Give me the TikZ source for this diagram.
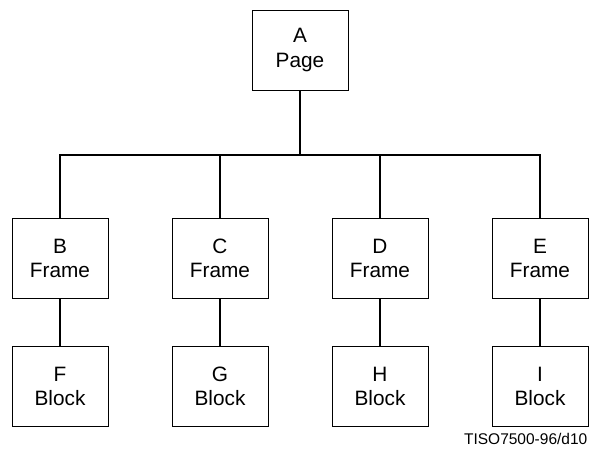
\documentclass[tikz,border=0pt]{standalone}
\usepackage{fontspec}
\setmainfont{Liberation Sans}
\begin{document}
\begin{tikzpicture}[x=1pt,y=1pt,
  box/.style={draw, line width=1pt, minimum width=96pt, minimum height=80pt, inner sep=0pt, align=center, font=\fontsize{20.8}{24.3}\selectfont},
  conn/.style={draw, line width=2pt}]
\useasboundingbox (0,0) rectangle (590,-448);
\node[box] (A) at (300,-50) {A\\Page};
\node[box] (B) at (60,-258.3) {B\\Frame};
\node[box] (C) at (220,-258.3) {C\\Frame};
\node[box] (D) at (380,-258.3) {D\\Frame};
\node[box] (E) at (540,-258.3) {E\\Frame};
\node[box] (F) at (60,-386.3) {F\\Block};
\node[box] (G) at (220,-386.3) {G\\Block};
\node[box] (H) at (380,-386.3) {H\\Block};
\node[box] (I) at (540,-386.3) {I\\Block};
\coordinate (bus) at (300,-154.5);
\foreach \n in {B,C,D,E} {
  \draw[conn] (A.south) -- (bus) -| (\n.north);
}
\draw[conn] (B) -- (F);
\draw[conn] (C) -- (G);
\draw[conn] (D) -- (H);
\draw[conn] (E) -- (I);
\node[anchor=base east, inner sep=0pt, font=\fontsize{15.5}{18}\selectfont] (lbl) at (587.5,-444) {TISO7500-96/d10};
\end{tikzpicture}
\end{document}
